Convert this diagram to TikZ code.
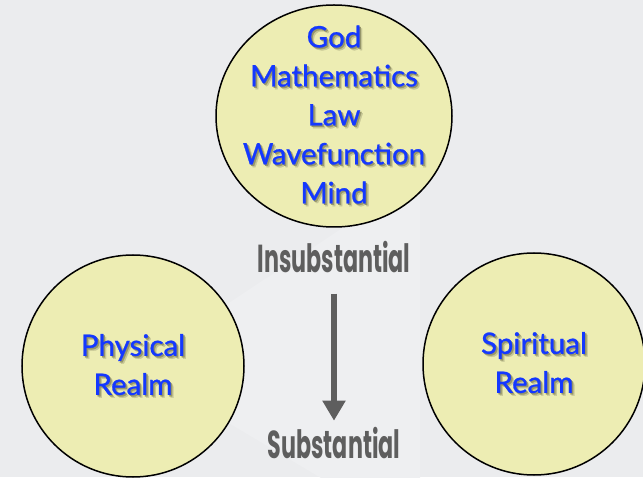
\documentclass[tikz,border=0pt]{standalone}
\usepackage{fontspec}
\usepackage{xcolor}
\usepackage{tikz}
\usetikzlibrary{arrows.meta,positioning,shapes.geometric}
\setmainfont{Lato}[FakeBold=0.9]
\newfontfamily\condfont[FakeStretch=0.57]{Poppins}
\definecolor{bggray}{HTML}{EBECEE}
\definecolor{bglight}{HTML}{EEEFF1}
\definecolor{paleyellow}{HTML}{EDEDB3}
\definecolor{realmblue}{HTML}{1438FF}
\definecolor{shadeolive}{HTML}{96966A}
\definecolor{shadelight}{HTML}{C6C695}
\definecolor{labelgray}{HTML}{5E5E5E}
% blue words with a soft drop shadow
\newcommand{\shd}[1]{\rlap{\kern2.8pt\raisebox{-2.8pt}{\textcolor{shadelight}{#1}}}\rlap{\kern1.5pt\raisebox{-1.5pt}{\textcolor{shadeolive}{#1}}}#1}

\begin{document}
\begin{tikzpicture}[x=1pt, y=1pt,
  realm/.style={draw=black, line width=1.5pt, fill=paleyellow, circle, minimum size=222pt, inner sep=0pt},
  realmtext/.style={text=realmblue, font=\fontsize{29.5}{39}\selectfont, align=center, inner sep=0pt},
  level/.style={text=labelgray, font=\condfont\bfseries\fontsize{39}{39}\selectfont, inner sep=0pt},
  flow/.style={-{Triangle[width=22pt, length=20pt]}, line width=6pt, labelgray}
]
\fill[bggray] (0,0) rectangle (643,477);
\useasboundingbox (0,0) rectangle (643,477);
% faint light band behind the left circle
\fill[bglight] (133,111) -- (420,300) -- (420,-60) -- cycle;

\node[realm, ellipse, minimum width=236pt, minimum height=222pt] (top) at (334,361) {};
\node[realm] (phys) at (133,111) {};
\node[realm] (spir) at (534,113) {};

\node[realmtext] (topwords) at (top) {\shd{God}\\\shd{Mathematics}\\\shd{Law}\\\shd{Wavefunction}\\\shd{Mind}};
\node[realmtext] (physwords) at (phys) {\shd{Physical}\\\shd{Realm}};
\node[realmtext] (spirwords) at (spir) {\shd{Spiritual}\\\shd{Realm}};

\node[level, below=13pt of top] (ins) {Insubstantial};
\node[level, below=154pt of ins] (sub) {Substantial};
\draw[flow, shorten <=21pt, shorten >=6pt] (ins) -- (sub);
\end{tikzpicture}
\end{document}
